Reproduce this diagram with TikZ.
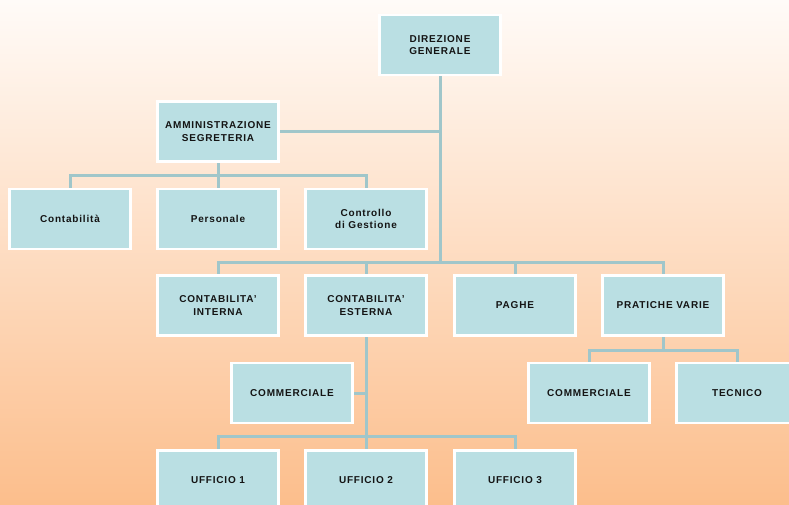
\documentclass[tikz,border=0pt]{standalone}
\usepackage{fontspec}
\usepackage{tikz}
\newfontfamily\boxfont{Liberation Sans}[LetterSpace=8]
\definecolor{boxblue}{RGB}{186,223,227}
\definecolor{linkblue}{RGB}{160,198,202}
\definecolor{peach}{RGB}{252,190,140}
\definecolor{paletop}{RGB}{255,251,248}
\definecolor{inkdark}{RGB}{20,20,20}
\pgfdeclarelayer{bg}
\pgfdeclarelayer{links}
\pgfsetlayers{bg,links,main}

\begin{document}
\begin{tikzpicture}[x=1pt,y=-1pt,
		unit/.style={fill=boxblue,draw=white,line width=2.5pt,minimum width=121pt,minimum height=60pt,
			inner sep=0pt,align=center,text=inkdark,font=\boxfont\bfseries\fontsize{10}{12.5}\selectfont},
		link/.style={draw=linkblue,line width=3pt}]
		\useasboundingbox (0,0) rectangle (789,504);
		\begin{pgfonlayer}{bg}
			\shade[top color=paletop,bottom color=peach] (0,0) rectangle (789,504);
		\end{pgfonlayer}

		% Top
		\node[unit] (dir) at (440,45) {DIREZIONE\\GENERALE};
		\node[unit] (amm) at (218,131.5) {AMMINISTRAZIONE\\SEGRETERIA};

		% Staff
		\node[unit] (cont) at (70,219) {Contabilità};
		\node[unit] (pers) at (218,219) {Personale};
		\node[unit] (ctrl) at (366,219) {Controllo\\di Gestione};

		% Departments
		\node[unit] (ci) at (218,305.5) {CONTABILITA’\\INTERNA};
		\node[unit] (ce) at (366,305.5) {CONTABILITA’\\ESTERNA};
		\node[unit] (paghe) at (515,305.5) {PAGHE};
		\node[unit] (prat) at (663,305.5) {PRATICHE VARIE};

		% Sub units
		\node[unit] (comm) at (292,393) {COMMERCIALE};
		\node[unit] (pcomm) at (589,393) {COMMERCIALE};
		\node[unit] (tec) at (737,393) {TECNICO};
		\node[unit] (uff1) at (218,480.5) {UFFICIO 1};
		\node[unit] (uff2) at (366,480.5) {UFFICIO 2};
		\node[unit] (uff3) at (515,480.5) {UFFICIO 3};

		% Buses
		\coordinate (bstaff) at (218,175);
		\coordinate (bdep) at (440,262);
		\coordinate (bprat) at (663,350);
		\coordinate (buff) at (366,436);

		\begin{pgfonlayer}{links}
			\draw[link] (dir.south) -- (bdep);
			\draw[link] (amm.east) -- (amm.east -| dir.south);
			\draw[link] (amm.south) -- (bstaff);
			\draw[link] (cont.north) |- (bstaff) -| (ctrl.north);
			\draw[link] (pers.north) -- (bstaff);
			\draw[link] (ci.north) |- (bdep) -| (prat.north);
			\draw[link] (ce.north) -- (ce.north |- bdep);
			\draw[link] (paghe.north) -- (paghe.north |- bdep);
			\draw[link] (prat.south) -- (bprat);
			\draw[link] (pcomm.north) |- (bprat) -| (tec.north);
			\draw[link] (ce.south) -- (uff2.north);
			\draw[link] (comm.east) -- (comm.east -| ce.south);
			\draw[link] (uff1.north) |- (buff) -| (uff3.north);
		\end{pgfonlayer}
	\end{tikzpicture}
\end{document}
